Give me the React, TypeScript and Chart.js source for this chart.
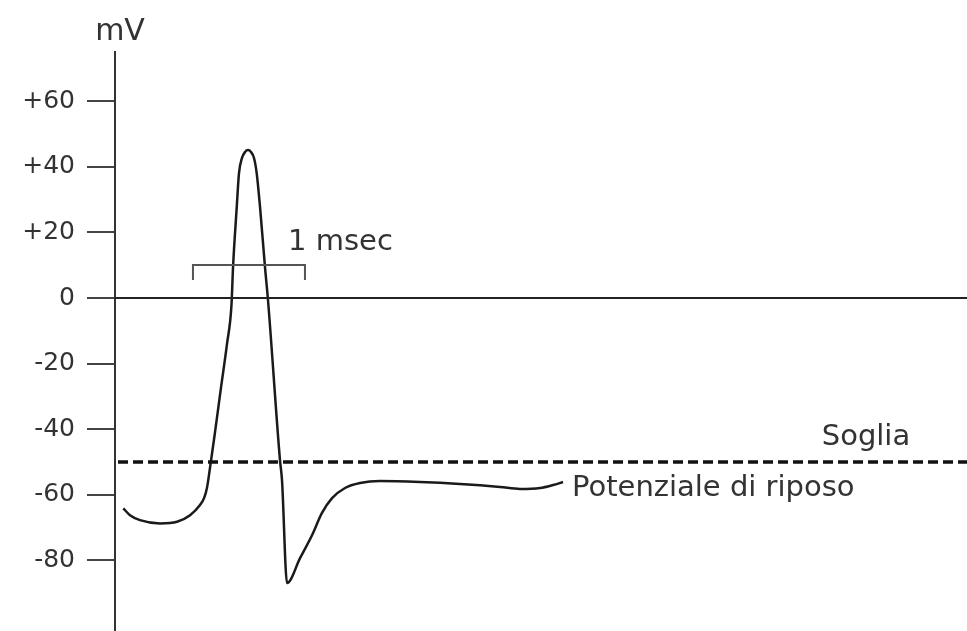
import React, { useEffect, useRef } from "react";
import { Chart, registerables } from "chart.js";

Chart.register(...registerables);

// Membrane potential trace (time in msec, potential in mV)
const timeMs = [0.074, 0.134, 0.223, 0.402, 0.554, 0.67, 0.759, 0.795, 0.821, 0.839, 0.893, 0.946, 1.0, 1.04, 1.054, 1.087, 1.107, 1.134, 1.161, 1.188, 1.214, 1.241, 1.265, 1.295, 1.339, 1.366, 1.473, 1.491, 1.536, 1.652, 1.759, 1.848, 1.938, 2.054, 2.188, 2.366, 2.723, 3.08, 3.438, 3.616, 3.795, 3.911, 4.0];
const potentialMv = [-64.1, -66.2, -67.7, -68.7, -68.2, -66.2, -63.1, -61.0, -57.9, -54.0, -40.9, -27.4, -14.0, -2.1, 9.5, 27.7, 38.1, 42.7, 44.5, 45.1, 44.5, 42.7, 38.1, 27.7, 9.5, -0.6, -49.4, -55.5, -86.9, -79.3, -72.3, -65.5, -61.0, -57.9, -56.4, -55.8, -56.1, -56.7, -57.6, -58.2, -57.9, -57.0, -56.1];

// Reference levels
const thresholdMv = -50;
const zeroMv = 0;
const xStart = 0;
const xEnd = 7.607;
const thresholdStart = 0.027;

// 1 msec scale bracket
const bracketX = [0.696, 0.696, 1.696, 1.696];
const bracketY = [5.5, 10.06, 10.06, 5.5];

// Y axis ticks
const yTicks = [60, 40, 20, 0, -20, -40, -60, -80];
const yMin = -101.5;
const yMax = 75;

// Text labels (data coordinates)
const labelTexts = ["1 msec", "Soglia", "Potenziale di riposo"];
const labelX = [1.545, 6.31, 4.08];
const labelY = [16.8, -42.4, -57.9];
const axisUnit = "mV";

const FONT = "'DejaVu Sans', sans-serif";

const textPlugin = {
  id: "textLabels",
  afterDatasetsDraw(chart: any) {
    const { ctx, chartArea, scales } = chart;
    ctx.save();
    ctx.fillStyle = "#333";
    ctx.font = `29px ${FONT}`;
    ctx.textBaseline = "middle";
    ctx.textAlign = "left";
    labelTexts.forEach((t, i) => {
      ctx.fillText(t, scales.x.getPixelForValue(labelX[i]), scales.y.getPixelForValue(labelY[i]));
    });
    ctx.font = `30px ${FONT}`;
    ctx.textAlign = "center";
    ctx.fillText(axisUnit, chartArea.left + 5, chartArea.top - 20);
    ctx.restore();
  },
};

export default function App() {
  const ref = useRef<HTMLCanvasElement | null>(null);

  useEffect(() => {
    if (!ref.current) return;
    const line = (xs: number[], ys: number[]) => xs.map((x, i) => ({ x, y: ys[i] }));
    const chart = new Chart(ref.current, {
      type: "line",
      data: {
        datasets: [
          {
            data: [{ x: xStart, y: zeroMv }, { x: xEnd, y: zeroMv }],
            borderColor: "#222",
            borderWidth: 2,
            pointRadius: 0,
            tension: 0,
          },
          {
            data: [{ x: thresholdStart, y: thresholdMv }, { x: xEnd, y: thresholdMv }],
            borderColor: "#111",
            borderWidth: 3.5,
            borderDash: [10, 5],
            pointRadius: 0,
            tension: 0,
          },
          {
            data: line(bracketX, bracketY),
            borderColor: "#555",
            borderWidth: 2,
            pointRadius: 0,
            tension: 0,
          },
          {
            data: line(timeMs, potentialMv),
            borderColor: "#1a1a1a",
            borderWidth: 2.5,
            pointRadius: 0,
            cubicInterpolationMode: "monotone",
          },
        ],
      },
      options: {
        animation: false,
        responsive: true,
        maintainAspectRatio: false,
        layout: { padding: { top: 52, left: 0, right: 0, bottom: 0 } },
        plugins: { legend: { display: false }, tooltip: { enabled: false }, title: { display: false } },
        scales: {
          x: { type: "linear", min: xStart, max: xEnd, display: false },
          y: {
            type: "linear",
            min: yMin,
            max: yMax,
            afterFit: (s: any) => {
              s.width = 115;
              s.paddingTop = 0;
              s.paddingBottom = 0;
            },
            afterBuildTicks: (s: any) => {
              s.ticks = yTicks.map((v) => ({ value: v }));
            },
            border: { display: true, color: "#333", width: 2 },
            grid: {
              display: true,
              drawOnChartArea: false,
              drawTicks: true,
              tickLength: 28,
              color: "#444",
              lineWidth: 2,
            },
            ticks: {
              padding: 12,
              color: "#333",
              font: { family: FONT, size: 25 },
              callback: (v: any) => (Number(v) > 0 ? "+" + v : String(v)),
            },
          },
        },
      },
      plugins: [textPlugin],
    });
    return () => chart.destroy();
  }, []);

  return (
    <div style={{ position: "absolute", left: 0, top: 0, width: 967, height: 631, background: "#fff" }}>
      <canvas ref={ref} />
    </div>
  );
}
